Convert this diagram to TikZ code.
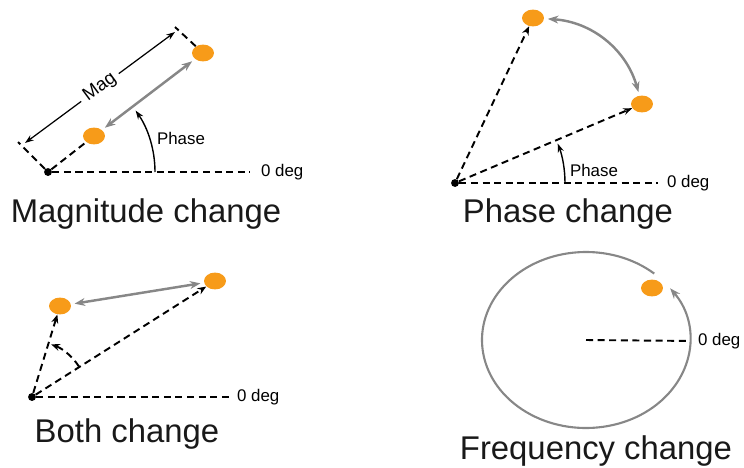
\documentclass[tikz,border=0pt]{standalone}
\usepackage{fontspec}
\setmainfont{Liberation Sans}
\usetikzlibrary{arrows.meta,shapes.geometric}

\definecolor{dotorange}{RGB}{247,155,25}
\definecolor{arrowgray}{RGB}{135,135,135}
\definecolor{inkgray}{RGB}{25,25,25}

\tikzset{
  phasor/.style={ellipse, fill=dotorange, inner sep=0pt, minimum width=12.5pt, minimum height=9.6pt},
  origin/.style={circle, fill=black, inner sep=0pt, minimum size=4.5pt},
  refline/.style={line width=1.1pt, dash pattern=on 4pt off 2.6pt},
  vec/.style={refline, -{Stealth[length=5pt,width=4pt]}},
  swing/.style={arrowgray, line width=1.4pt, shorten <=2pt, shorten >=2pt,
    {Stealth[length=6pt,width=4.5pt]}-{Stealth[length=6pt,width=4.5pt]}},
  dimline/.style={line width=0.7pt, {Stealth[length=5pt,width=3.5pt]}-{Stealth[length=5pt,width=3.5pt]}},
  anglearc/.style={line width=0.8pt, -{Stealth[length=5pt,width=3.5pt]}},
  freqcircle/.style={arrowgray, line width=1.2pt, -{Stealth[length=6pt,width=4.5pt]}},
  small/.style={font=\fontsize{9.6}{11}\selectfont, inner sep=1pt},
  title/.style={font=\fontsize{18.7}{22}\selectfont, text=inkgray, anchor=base, inner sep=0pt},
}

\begin{document}
\begin{tikzpicture}[x=0.02cm, y=0.02cm]

  % Fix the page to the size of the reference
  \useasboundingbox (0,0) rectangle (744,-467);

  % ---------------- Magnitude change ----------------
  \node[origin] (o1) at (48,-172) {};
  \node[phasor] (m1) at (94,-136) {};
  \node[phasor] (m2) at (203,-53) {};

  % Dashed vector and the 0 deg reference
  \draw[refline] (o1) -- (m1);
  \node[small, anchor=west] (z1) at (259,-172) {0 deg};
  \draw[refline, shorten >=5pt] (o1) -- (z1.west);

  % Magnitude swing between the two phasors
  \draw[swing] (m1) -- (m2);

  % Extension lines and the Mag dimension
  \coordinate (e1) at (18,-142);
  \coordinate (e2) at (175,-27);
  \draw[refline] (o1) -- (e1);
  \draw[refline] (m2) -- (e2);
  \coordinate (d1) at (25,-143);
  \coordinate (d2) at (175,-32);
  \draw[dimline] (d1) -- node[small, font=\fontsize{10.5}{12}\selectfont, sloped, fill=white, inner sep=3pt] {Mag} (d2);

  % Phase angle
  \draw[anglearc] (o1) ++(0:107) arc[start angle=0, end angle=35, radius=107];
  \node[small] (ph1) at (181,-138) {Phase};

  \node[title] (t1) at (146,-222) {Magnitude change};

  % ---------------- Phase change ----------------
  \node[origin] (o2) at (455,-183) {};
  \node[phasor] (p1) at (533,-18) {};
  \node[phasor] (p2) at (642,-104) {};

  \draw[vec] (o2) -- (p1);
  \draw[vec] (o2) -- (p2);
  \node[small, anchor=west] (z2) at (665,-183) {0 deg};
  \draw[refline, shorten >=4pt] (o2) -- (z2.west);

  % Phase swing along the arc
  \draw[swing] (p1) to[bend left=35] (p2);

  % Phase angle
  \draw[anglearc] (o2) ++(0:110) arc[start angle=0, end angle=21, radius=110];
  \node[small] (ph2) at (594,-170) {Phase};

  \node[title] (t2) at (568,-222) {Phase change};

  % ---------------- Both change ----------------
  \node[origin] (o3) at (32,-397) {};
  \node[phasor] (b1) at (60,-306) {};
  \node[phasor] (b2) at (215,-281) {};

  \draw[vec] (o3) -- (b1);
  \draw[vec] (o3) -- (b2);
  \node[small, anchor=west] (z3) at (235,-397) {0 deg};
  \draw[refline, shorten >=3pt] (o3) -- (z3.west);

  \draw[swing] (b1) -- (b2);

  % Angle between the two vectors
  \draw[vec] (o3) ++(33:56) arc[start angle=33, end angle=70, radius=56];

  \node[title] (t3) at (127,-442) {Both change};

  % ---------------- Frequency change ----------------
  \coordinate (c4) at (586,-340);
  \node[phasor] (f1) at (652,-288) {};

  % Rotating phasor path
  \draw[freqcircle] (c4) ++(49:104 and 88)
    arc[start angle=49, end angle=396, x radius=104, y radius=88];

  \node[small, anchor=west] (z4) at (696,-341) {0 deg};
  \draw[refline, shorten >=5pt] (c4) -- (z4.west);

  \node[title] (t4) at (596,-459) {Frequency change};

\end{tikzpicture}
\end{document}
